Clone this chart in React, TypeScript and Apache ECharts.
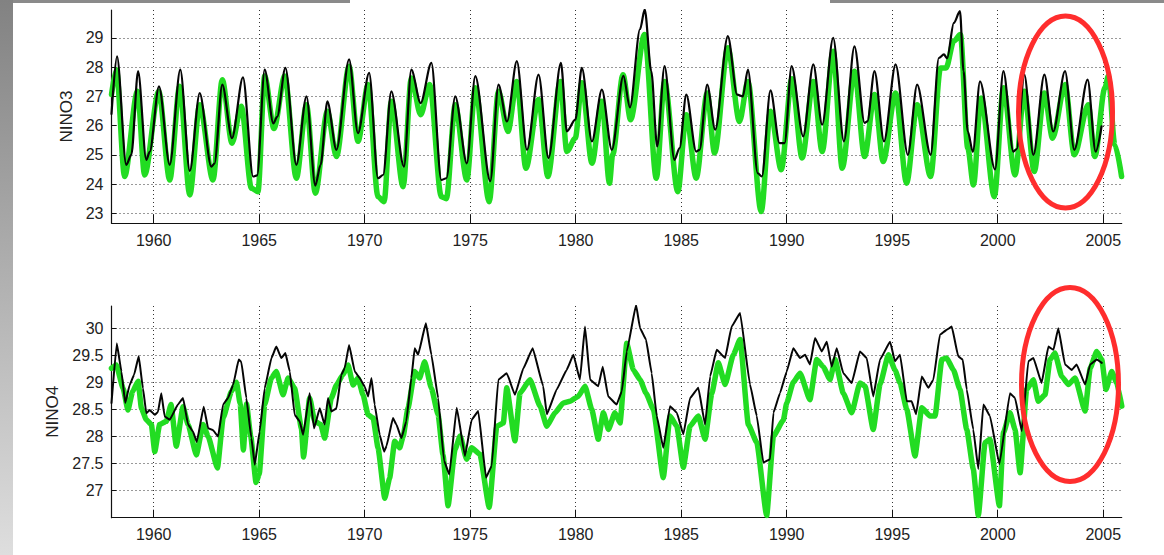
import React, { useEffect, useRef } from "react";
import * as echarts from "echarts";

// ---------- ticks ----------
const yearTicks = [1960, 1965, 1970, 1975, 1980, 1985, 1990, 1995, 2000, 2005];
const nino3Ticks = [23, 24, 25, 26, 27, 28, 29];
const nino4Ticks = [27, 27.5, 28, 28.5, 29, 29.5, 30];

// ---------- NINO3, black line ----------
const nino3BlackYears = [
  1958.0, 1958.26, 1958.7, 1958.94, 1959.26, 1959.65, 1959.81, 1960.25, 1960.76, 1961.26,
  1961.71, 1962.18, 1962.73, 1962.88, 1963.25, 1963.71, 1964.23, 1964.71, 1964.9, 1965.26,
  1965.67, 1965.85, 1966.24, 1966.76, 1967.24, 1967.66, 1967.91, 1968.23, 1968.66, 1969.26,
  1969.68, 1970.21, 1970.63, 1970.87, 1971.26, 1971.86, 1972.21, 1972.65, 1973.16, 1973.63,
  1973.87, 1974.29, 1974.84, 1975.24, 1975.95, 1976.34, 1976.74, 1977.21, 1977.69, 1978.24,
  1978.71, 1979.3, 1979.58, 1979.98, 1980.29, 1980.77, 1981.24, 1981.71, 1982.26, 1982.57,
  1983.05, 1983.27, 1983.58, 1983.86, 1984.21, 1984.68, 1984.92, 1985.24, 1985.71, 1985.87,
  1986.23, 1986.61, 1987.21, 1987.65, 1987.92, 1988.16, 1988.63, 1988.82, 1989.23, 1989.66,
  1989.9, 1990.23, 1990.78, 1991.26, 1991.68, 1992.2, 1992.71, 1993.21, 1993.69, 1993.82,
  1994.16, 1994.61, 1995.16, 1995.74, 1996.18, 1996.82, 1997.21, 1997.45, 1997.6, 1997.92,
  1998.21, 1998.38, 1998.58, 1998.82, 1999.16, 1999.87, 2000.27, 2000.74, 2000.9, 2001.26,
  2001.69, 2002.21, 2002.63, 2003.19, 2003.63, 2004.26, 2004.64, 2004.92,
];
const nino3BlackValues = [
  26.4, 28.37, 24.66, 25.0, 27.86, 24.83, 25.1, 27.34, 24.66, 27.91,
  24.45, 27.11, 24.6, 24.7, 27.4, 25.57, 27.65, 24.26, 24.3, 27.91,
  26.07, 26.3, 27.97, 24.66, 27.0, 23.95, 24.66, 26.83, 25.17, 28.26,
  25.74, 27.8, 24.2, 24.31, 27.17, 24.6, 27.91, 26.77, 28.14, 24.14,
  24.2, 27.0, 24.71, 27.69, 24.1, 27.4, 26.14, 28.2, 25.17, 27.74,
  24.89, 28.14, 25.8, 26.2, 27.97, 25.46, 27.23, 25.17, 27.7, 26.62,
  29.3, 29.97, 27.86, 25.29, 28.03, 24.83, 25.23, 27.06, 25.11, 25.17,
  27.4, 25.86, 29.06, 27.06, 27.0, 27.91, 24.37, 24.26, 27.2, 25.4,
  25.4, 28.03, 25.63, 28.09, 26.03, 29.0, 25.46, 28.71, 26.09, 26.14,
  27.86, 25.46, 28.09, 25.0, 27.4, 25.0, 28.31, 28.43, 28.3, 29.51,
  29.91, 27.86, 25.8, 25.1, 27.51, 24.5, 27.86, 25.11, 25.2, 27.74,
  25.0, 27.74, 25.8, 27.86, 25.17, 27.57, 25.11, 25.97,
];

// ---------- NINO3, green line ----------
const nino3GreenYears = [
  1958.0, 1958.23, 1958.62, 1959.23, 1959.57, 1960.24, 1960.76, 1961.23, 1961.71, 1962.18,
  1962.81, 1963.25, 1963.71, 1964.15, 1964.63, 1964.94, 1965.26, 1965.7, 1966.21, 1966.76,
  1967.24, 1967.66, 1968.23, 1968.66, 1969.26, 1969.68, 1970.16, 1970.63, 1970.92, 1971.26,
  1971.82, 1972.21, 1972.65, 1973.08, 1973.63, 1973.87, 1974.29, 1974.84, 1975.24, 1975.9,
  1976.34, 1976.79, 1977.21, 1977.64, 1978.24, 1978.68, 1979.27, 1979.58, 1979.98, 1980.29,
  1980.77, 1981.24, 1981.6, 1981.75, 1982.24, 1982.6, 1983.26, 1983.82, 1984.21, 1984.84,
  1985.24, 1985.71, 1986.23, 1986.58, 1987.21, 1987.76, 1988.16, 1988.79, 1989.23, 1989.74,
  1990.24, 1990.73, 1991.26, 1991.68, 1992.2, 1992.63, 1993.21, 1993.69, 1994.16, 1994.57,
  1995.16, 1995.68, 1996.18, 1996.82, 1997.29, 1997.55, 1997.92, 1998.23, 1998.58, 1998.85,
  1999.21, 1999.84, 2000.27, 2000.82, 2001.26, 2001.73, 2002.21, 2002.6, 2003.19, 2003.63,
  2004.29, 2004.6, 2005.08, 2005.24, 2005.55, 2005.87,
];
const nino3GreenValues = [
  27.06, 27.91, 24.26, 27.17, 24.31, 27.17, 24.14, 27.34, 23.63, 26.71,
  24.14, 27.57, 25.4, 26.66, 23.86, 23.74, 27.69, 25.9, 27.69, 24.2,
  26.71, 23.69, 26.49, 24.94, 28.03, 25.46, 27.4, 23.57, 23.4, 26.83,
  23.91, 27.63, 26.37, 27.4, 23.57, 23.5, 26.71, 24.14, 27.29, 23.4,
  27.17, 25.8, 27.51, 24.54, 26.89, 24.26, 27.51, 25.11, 25.57, 27.46,
  24.71, 26.83, 24.03, 25.0, 27.74, 26.2, 29.11, 24.2, 27.51, 23.74,
  26.37, 24.2, 27.11, 25.06, 28.66, 26.14, 27.51, 23.06, 26.49, 24.49,
  27.6, 24.89, 27.51, 25.11, 28.54, 24.54, 27.86, 24.94, 27.06, 24.77,
  27.11, 24.03, 26.71, 24.26, 27.97, 27.97, 28.89, 29.11, 25.23, 23.97,
  26.94, 23.57, 27.29, 24.31, 27.17, 24.43, 27.11, 25.57, 27.4, 25.0,
  26.71, 24.94, 27.29, 27.69, 25.34, 24.26,
];

// ---------- NINO4, black line ----------
const nino4BlackYears = [
  1958.0, 1958.25, 1958.47, 1958.65, 1958.86, 1959.07, 1959.29, 1959.49, 1959.65, 1959.81,
  1960.05, 1960.2, 1960.36, 1960.52, 1960.76, 1961.15, 1961.39, 1961.63, 1961.86, 1962.04,
  1962.37, 1962.58, 1962.8, 1963.05, 1963.29, 1963.52, 1963.76, 1964.03, 1964.15, 1964.39,
  1964.63, 1964.79, 1965.02, 1965.26, 1965.58, 1965.81, 1966.05, 1966.24, 1966.45, 1966.68,
  1966.92, 1967.08, 1967.39, 1967.6, 1967.87, 1968.1, 1968.26, 1968.42, 1968.66, 1968.89,
  1969.05, 1969.26, 1969.53, 1969.76, 1970.0, 1970.16, 1970.32, 1970.47, 1970.71, 1970.92,
  1971.03, 1971.34, 1971.5, 1971.74, 1971.97, 1972.21, 1972.37, 1972.53, 1972.9, 1973.16,
  1973.48, 1973.76, 1974.01, 1974.36, 1974.75, 1975.07, 1975.38, 1975.75, 1976.02, 1976.33,
  1976.73, 1977.12, 1977.52, 1977.96, 1978.46, 1978.63, 1979.1, 1979.57, 1979.89, 1980.2,
  1980.44, 1980.68, 1981.07, 1981.28, 1981.54, 1981.94, 1982.18, 1982.42, 1982.86, 1983.05,
  1983.33, 1983.6, 1983.84, 1984.15, 1984.47, 1984.79, 1985.1, 1985.42, 1985.81, 1986.13,
  1986.37, 1986.68, 1987.08, 1987.39, 1987.79, 1988.26, 1988.58, 1988.89, 1989.21, 1989.37,
  1989.68, 1990.0, 1990.31, 1990.63, 1990.87, 1991.1, 1991.34, 1991.66, 1991.9, 1992.13,
  1992.37, 1992.68, 1993.08, 1993.47, 1993.79, 1994.1, 1994.42, 1994.9, 1995.13, 1995.37,
  1995.69, 1995.92, 1996.13, 1996.4, 1996.71, 1996.95, 1997.26, 1997.58, 1997.82, 1998.13,
  1998.34, 1998.53, 1998.84, 1999.08, 1999.32, 1999.63, 2000.08, 2000.58, 2000.82, 2001.14,
  2001.45, 2001.69, 2002.08, 2002.4, 2002.64, 2002.87, 2003.19, 2003.51, 2003.74, 2004.14,
  2004.38, 2004.69, 2004.93,
];
const nino4BlackValues = [
  28.62, 29.72, 29.2, 28.62, 28.95, 29.14, 29.48, 28.89, 28.43, 28.49,
  28.4, 28.45, 28.8, 28.37, 28.31, 28.59, 28.71, 28.22, 28.09, 27.9,
  28.55, 28.15, 28.12, 28.0, 28.59, 28.71, 28.95, 29.42, 29.38, 28.71,
  27.97, 27.48, 28.09, 28.89, 29.45, 29.66, 29.45, 29.54, 29.2, 28.4,
  28.28, 28.03, 28.8, 28.15, 28.52, 28.22, 28.71, 28.46, 28.52, 29.14,
  29.26, 29.69, 29.2, 29.08, 28.92, 28.74, 29.08, 28.59, 28.03, 27.72,
  27.82, 28.34, 28.22, 27.97, 28.28, 29.08, 29.63, 29.51, 30.09, 29.51,
  28.71, 27.55, 27.3, 28.53, 27.64, 28.31, 28.47, 27.24, 27.46, 29.05,
  29.17, 28.77, 29.26, 29.63, 28.93, 28.41, 28.87, 29.23, 29.51, 29.05,
  30.03, 29.05, 28.93, 29.29, 28.74, 28.59, 28.83, 29.57, 30.43, 30.0,
  29.79, 29.17, 28.38, 27.79, 28.56, 28.44, 28.04, 28.71, 28.9, 28.22,
  29.11, 29.6, 29.45, 30.03, 30.28, 28.96, 28.38, 27.52, 27.58, 28.44,
  28.8, 29.2, 29.63, 29.45, 29.51, 29.33, 29.82, 29.57, 29.75, 29.29,
  29.63, 29.17, 28.99, 29.57, 29.45, 28.74, 29.42, 29.75, 29.39, 29.51,
  28.65, 28.65, 28.41, 29.11, 28.9, 29.05, 29.88, 29.97, 30.03, 29.48,
  29.42, 28.87, 28.13, 27.4, 28.59, 28.38, 27.49, 28.8, 28.71, 28.1,
  29.39, 29.45, 28.99, 29.66, 29.6, 30.0, 29.33, 29.23, 29.33, 28.96,
  29.33, 29.42, 29.36,
];

// ---------- NINO4, green line ----------
const nino4GreenYears = [
  1958.0, 1958.23, 1958.55, 1958.78, 1959.0, 1959.26, 1959.42, 1959.65, 1959.89, 1960.05,
  1960.28, 1960.6, 1960.82, 1961.07, 1961.39, 1961.63, 1962.02, 1962.34, 1962.58, 1963.02,
  1963.29, 1963.68, 1963.92, 1964.1, 1964.25, 1964.4, 1964.6, 1964.85, 1965.0, 1965.26,
  1965.58, 1965.81, 1966.13, 1966.37, 1966.68, 1967.0, 1967.1, 1967.39, 1967.63, 1967.92,
  1968.1, 1968.42, 1968.66, 1968.97, 1969.21, 1969.45, 1969.68, 1969.92, 1970.16, 1970.4,
  1970.63, 1970.95, 1971.18, 1971.42, 1971.66, 1971.82, 1972.05, 1972.37, 1972.6, 1972.84,
  1973.16, 1973.48, 1973.71, 1973.95, 1974.28, 1974.52, 1974.83, 1975.07, 1975.46, 1975.9,
  1976.26, 1976.57, 1976.73, 1977.12, 1977.36, 1977.83, 1978.31, 1978.63, 1979.02, 1979.41,
  1979.73, 1980.12, 1980.44, 1980.76, 1981.07, 1981.31, 1981.55, 1981.86, 1982.1, 1982.42,
  1982.73, 1983.05, 1983.33, 1983.68, 1984.15, 1984.47, 1984.79, 1985.1, 1985.42, 1985.81,
  1986.13, 1986.45, 1986.76, 1987.08, 1987.47, 1987.79, 1988.18, 1988.58, 1989.05, 1989.37,
  1989.84, 1990.0, 1990.31, 1990.63, 1991.1, 1991.42, 1991.73, 1992.05, 1992.29, 1992.68,
  1993.08, 1993.47, 1993.71, 1994.1, 1994.42, 1994.82, 1995.13, 1995.37, 1995.69, 1996.08,
  1996.4, 1996.79, 1997.03, 1997.35, 1997.58, 1997.9, 1998.21, 1998.53, 1998.84, 1999.08,
  1999.4, 1999.63, 2000.08, 2000.27, 2000.58, 2000.82, 2001.06, 2001.37, 2001.69, 2001.92,
  2002.24, 2002.48, 2002.71, 2003.03, 2003.35, 2003.67, 2004.14, 2004.38, 2004.69, 2004.93,
  2005.13, 2005.4, 2005.64, 2005.88,
];
const nino4GreenValues = [
  29.26, 29.32, 28.89, 28.49, 28.83, 29.02, 28.52, 28.31, 28.22, 27.72,
  28.22, 28.28, 28.59, 27.82, 28.55, 28.22, 27.66, 28.22, 28.0, 27.42,
  28.34, 28.83, 29.0, 28.6, 27.75, 28.6, 28.0, 27.15, 27.3, 28.59,
  29.08, 29.2, 28.77, 29.08, 28.89, 28.15, 27.62, 28.71, 28.28, 28.22,
  27.97, 28.71, 28.95, 29.14, 29.32, 28.95, 29.08, 28.77, 28.4, 28.34,
  27.79, 26.86, 27.23, 27.91, 27.79, 28.0, 28.52, 29.2, 29.08, 29.38,
  28.89, 28.4, 27.66, 26.72, 27.76, 28.01, 27.58, 27.79, 27.67, 26.69,
  28.19, 28.25, 28.9, 27.92, 28.8, 29.05, 28.56, 28.19, 28.44, 28.62,
  28.65, 28.74, 28.93, 28.5, 27.95, 28.44, 28.13, 28.44, 28.25, 29.72,
  29.23, 29.05, 28.8, 28.5, 27.24, 28.38, 28.19, 27.43, 28.19, 28.38,
  27.95, 28.8, 29.36, 28.96, 29.51, 29.79, 28.22, 27.89, 26.54, 28.01,
  28.3, 28.62, 29.0, 29.17, 28.68, 29.42, 29.29, 29.05, 29.42, 28.8,
  28.44, 28.99, 28.93, 28.13, 28.96, 29.51, 29.23, 28.99, 28.5, 27.64,
  28.53, 28.38, 28.38, 29.42, 29.45, 29.23, 28.87, 28.13, 27.4, 26.54,
  27.89, 27.95, 26.72, 28.07, 28.44, 28.13, 27.33, 28.87, 29.05, 28.65,
  28.77, 29.42, 29.54, 29.11, 28.96, 29.08, 28.47, 29.26, 29.57, 29.42,
  28.87, 29.2, 28.99, 28.56,
];

const pairs = (xs: number[], ys: number[]) => xs.map((x, i) => [x, ys[i]]);

const FONT = "'Liberation Sans', Arial, Helvetica, sans-serif";
const BLACK = "#050505";
const GREEN = "#22dc22";

function xAxisFor(gridIndex: number) {
  return {
    type: "value",
    gridIndex,
    min: 1958,
    max: 2005.875,
    axisLine: { show: true, onZero: false, lineStyle: { color: "#111", width: 1.2 } },
    axisTick: { show: true, inside: true, length: 8, customValues: yearTicks, lineStyle: { color: "#111" } },
    axisLabel: {
      show: true,
      customValues: yearTicks,
      margin: 9,
      fontSize: 16,
      color: "#222",
      fontFamily: FONT,
      formatter: (v: number) => String(v),
    },
    splitLine: { show: true, lineStyle: { color: "#333", width: 1, type: [1, 3] } },
  };
}

function yAxisFor(gridIndex: number, min: number, max: number, ticks: number[], name: string, gap: number) {
  return {
    type: "value",
    gridIndex,
    min,
    max,
    name,
    nameLocation: "middle",
    nameGap: gap,
    nameTextStyle: { fontSize: 17, color: "#222", fontFamily: FONT },
    axisLine: { show: true, onZero: false, lineStyle: { color: "#111", width: 1.2 } },
    axisTick: { show: true, inside: true, length: 5, customValues: ticks, lineStyle: { color: "#111" } },
    axisLabel: {
      show: true,
      customValues: ticks,
      margin: 8,
      fontSize: 16,
      color: "#222",
      fontFamily: FONT,
      formatter: (v: number) => String(v),
    },
    splitLine: { show: true, lineStyle: { color: "#333", width: 1, type: [1, 3] } },
  };
}

function lineSeries(name: string, data: number[][], axis: number, color: string, width: number, smooth: number) {
  return {
    type: "line",
    name,
    xAxisIndex: axis,
    yAxisIndex: axis,
    data,
    showSymbol: false,
    symbol: "none",
    smooth,
    smoothMonotone: "x",
    lineStyle: { color, width, join: "round", cap: "round" },
    emphasis: { disabled: true },
  };
}

export default function App() {
  const ref = useRef<HTMLDivElement>(null);

  useEffect(() => {
    if (!ref.current) return;
    const chart = echarts.init(ref.current, undefined, { renderer: "svg" });
    chart.setOption({
      animation: false,
      backgroundColor: "#ffffff",
      grid: [
        { left: 111.5, top: 10, width: 1010.2, height: 213 },
        { left: 111.5, top: 306, width: 1010.2, height: 211.7 },
      ],
      xAxis: [xAxisFor(0), xAxisFor(1)],
      yAxis: [
        yAxisFor(0, 22.67, 29.95, nino3Ticks, "NINO3", 36),
        yAxisFor(1, 26.5, 30.41, nino4Ticks, "NINO4", 48),
      ],
      series: [
        lineSeries("NINO3 green", pairs(nino3GreenYears, nino3GreenValues), 0, GREEN, 5.5, 0.3),
        lineSeries("NINO3 black", pairs(nino3BlackYears, nino3BlackValues), 0, BLACK, 2.2, 0.3),
        lineSeries("NINO4 green", pairs(nino4GreenYears, nino4GreenValues), 1, GREEN, 5.5, 0.15),
        lineSeries("NINO4 black", pairs(nino4BlackYears, nino4BlackValues), 1, BLACK, 2, 0.1),
      ],
      graphic: {
        elements: [
          {
            type: "rect",
            shape: { x: 0, y: 0, width: 13, height: 555 },
            style: {
              fill: {
                type: "linear",
                x: 0,
                y: 0,
                x2: 0,
                y2: 1,
                colorStops: [
                  { offset: 0, color: "#828282" },
                  { offset: 1, color: "#dedede" },
                ],
              },
            },
            silent: true,
          },
          { type: "rect", shape: { x: 13, y: 0, width: 337, height: 3 }, style: { fill: "#8a8a8a" }, silent: true },
          { type: "rect", shape: { x: 830, y: 0, width: 334, height: 3 }, style: { fill: "#8a8a8a" }, silent: true },
          {
            type: "ellipse",
            shape: { cx: 1065.5, cy: 112, rx: 47, ry: 96 },
            style: { fill: "none", stroke: "#ff2d2d", lineWidth: 5 },
            z: 100,
            silent: true,
          },
          {
            type: "ellipse",
            shape: { cx: 1070, cy: 384.5, rx: 48.5, ry: 97 },
            style: { fill: "none", stroke: "#ff2d2d", lineWidth: 5 },
            z: 100,
            silent: true,
          },
        ],
      },
    });
    return () => chart.dispose();
  }, []);

  return (
    <div
      ref={ref}
      style={{ position: "fixed", left: 0, top: 0, width: 1164, height: 555, background: "#fff" }}
    />
  );
}
